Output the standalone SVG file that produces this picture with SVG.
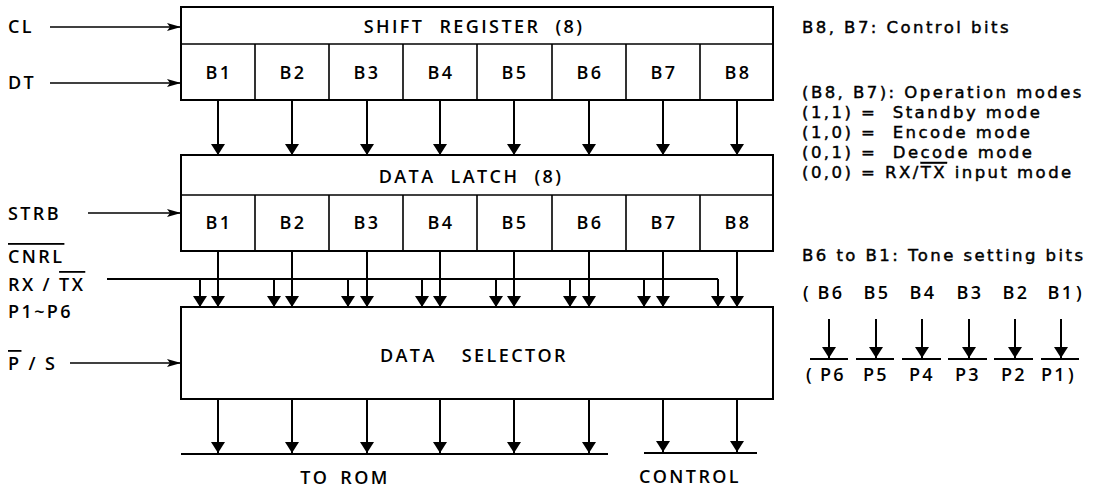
<svg xmlns="http://www.w3.org/2000/svg" width="1093" height="491" viewBox="0 0 1093 491">
<defs>
<style>
text{font-family:"Open Sans","Noto Sans","Liberation Sans",sans-serif;font-size:18px;fill:#000;font-weight:600;letter-spacing:2.4px}
.c{text-anchor:middle}
.h{word-spacing:8px}
.r{font-family:"DejaVu Sans","Open Sans",sans-serif;font-weight:400;font-size:16.5px;letter-spacing:2.45px;stroke:#000;stroke-width:0.45px}
.ov{text-decoration:overline}
.box{fill:#fff;stroke:#000;stroke-width:2}
.div{stroke:#000;stroke-width:1.6}
.w{stroke:#000;stroke-width:2;fill:none}
.a{stroke:#000;stroke-width:2;fill:none;marker-end:url(#ad)}
.in{stroke:#000;stroke-width:1.6;fill:none;marker-end:url(#ar)}
</style>
<marker id="ad" markerUnits="userSpaceOnUse" markerWidth="11" markerHeight="14" viewBox="0 0 11 14" refX="11" refY="7" orient="auto"><path d="M0,0 L11,7 L0,14 z"/></marker>
<marker id="ar" markerUnits="userSpaceOnUse" markerWidth="14" markerHeight="8" viewBox="0 0 14 8" refX="14" refY="4" orient="auto"><path d="M0,0 L14,4 L0,8 L3,4 z"/></marker>
</defs>

<g id="shift-register">
<rect class="box" x="181" y="7" width="592" height="93"/>
<line class="div" x1="181" y1="44" x2="773" y2="44"/>
<path class="div" d="M255,44V100M329,44V100M403,44V100M477,44V100M552,44V100M626,44V100M700,44V100"/>
<text class="c h" x="474" y="33">SHIFT REGISTER (8)</text>
<text class="c" x="219" y="79">B1</text>
<text class="c" x="293" y="79">B2</text>
<text class="c" x="367" y="79">B3</text>
<text class="c" x="441" y="79">B4</text>
<text class="c" x="515" y="79">B5</text>
<text class="c" x="590" y="79">B6</text>
<text class="c" x="664" y="79">B7</text>
<text class="c" x="738" y="79">B8</text>
</g>

<g id="data-latch">
<rect class="box" x="181" y="155" width="592" height="96"/>
<line class="div" x1="181" y1="195" x2="773" y2="195"/>
<path class="div" d="M255,195V251M329,195V251M403,195V251M477,195V251M552,195V251M626,195V251M700,195V251"/>
<text class="c h" x="471" y="183">DATA LATCH (8)</text>
<text class="c" x="219" y="229">B1</text>
<text class="c" x="293" y="229">B2</text>
<text class="c" x="367" y="229">B3</text>
<text class="c" x="441" y="229">B4</text>
<text class="c" x="515" y="229">B5</text>
<text class="c" x="590" y="229">B6</text>
<text class="c" x="664" y="229">B7</text>
<text class="c" x="738" y="229">B8</text>
</g>

<g id="data-selector">
<rect class="box" x="181" y="307" width="592" height="92"/>
<text class="c" x="474" y="362" style="word-spacing:18px">DATA SELECTOR</text>
</g>

<g id="inputs">
<text x="8" y="33">CL</text>
<text x="8" y="89">DT</text>
<text x="8" y="220">STRB</text>
<text x="8" y="263"><tspan class="ov">CNRL</tspan></text>
<text x="8" y="291">RX / <tspan class="ov">TX</tspan></text>
<text x="8" y="318">P1~P6</text>
<text x="8" y="370"><tspan class="ov">P</tspan> / S</text>
</g>

<g id="outputs">
<line class="w" x1="181" y1="454" x2="608" y2="454"/>
<line class="w" x1="644" y1="453" x2="757" y2="453"/>
<text class="c" x="345" y="484" style="word-spacing:4px">TO ROM</text>
<text class="c" x="690" y="483">CONTROL</text>
</g>

<g id="legend">
<text class="r" x="802" y="33">B8, B7: Control bits</text>
<text class="r" x="802" y="98">(B8, B7): Operation modes</text>
<text class="r" x="802" y="118" xml:space="preserve">(1,1) =  Standby mode</text>
<text class="r" x="802" y="138" xml:space="preserve">(1,0) =  Encode mode</text>
<text class="r" x="802" y="158" xml:space="preserve">(0,1) =  Decode mode</text>
<text class="r" x="802" y="178">(0,0) = RX/<tspan class="ov">TX</tspan> input mode</text>
<text class="r" x="802" y="261">B6 to B1: Tone setting bits</text>
</g>

<g id="tone-map">
<text x="803" y="299">(</text>
<text class="c" x="831" y="299">B6</text>
<text class="c" x="877" y="299">B5</text>
<text class="c" x="923" y="299">B4</text>
<text class="c" x="970" y="299">B3</text>
<text class="c" x="1016" y="299">B2</text>
<text class="c" x="1061" y="299">B1</text>
<text x="1076" y="299">)</text>
<text x="806" y="381">(</text>
<text class="c" x="833" y="381">P6</text>
<text class="c" x="876" y="381">P5</text>
<text class="c" x="922" y="381">P4</text>
<text class="c" x="968" y="381">P3</text>
<text class="c" x="1014" y="381">P2</text>
<text class="c" x="1054" y="381">P1</text>
<text x="1068" y="381">)</text>
</g>

<g id="connectors">
<line class="in" x1="50" y1="27" x2="181" y2="27"/>
<line class="in" x1="50" y1="83" x2="181" y2="83"/>
<line class="in" x1="88" y1="213" x2="181" y2="213"/>
<line class="in" x1="70" y1="363" x2="181" y2="363"/>
<path class="a" d="M218,100V155"/>
<path class="a" d="M292,100V155"/>
<path class="a" d="M367,100V155"/>
<path class="a" d="M440,100V155"/>
<path class="a" d="M514,100V155"/>
<path class="a" d="M589,100V155"/>
<path class="a" d="M663,100V155"/>
<path class="a" d="M737,100V155"/>
<path class="a" d="M218,251V307"/>
<path class="a" d="M292,251V307"/>
<path class="a" d="M367,251V307"/>
<path class="a" d="M440,251V307"/>
<path class="a" d="M514,251V307"/>
<path class="a" d="M589,251V307"/>
<path class="a" d="M663,251V307"/>
<path class="a" d="M737,251V307"/>
<path class="w" d="M107,279H718"/>
<path class="a" d="M200,279V307"/>
<path class="a" d="M274,279V307"/>
<path class="a" d="M348,279V307"/>
<path class="a" d="M422,279V307"/>
<path class="a" d="M496,279V307"/>
<path class="a" d="M570,279V307"/>
<path class="a" d="M644,279V307"/>
<path class="a" d="M718,279V307"/>
<path class="a" d="M218,399V453"/>
<path class="a" d="M292,399V453"/>
<path class="a" d="M367,399V453"/>
<path class="a" d="M440,399V453"/>
<path class="a" d="M514,399V453"/>
<path class="a" d="M589,399V453"/>
<path class="a" d="M663,399V452"/>
<path class="a" d="M737,399V452"/>
<path class="a" d="M829,319V358"/>
<path class="a" d="M876,319V358"/>
<path class="a" d="M922,319V358"/>
<path class="a" d="M969,319V358"/>
<path class="a" d="M1015,319V358"/>
<path class="a" d="M1061,319V358"/>
<path class="w" d="M810,359H848M856,359H894M902,359H941M948,359H987M994,359H1033M1041,359H1079"/>
</g>
</svg>
